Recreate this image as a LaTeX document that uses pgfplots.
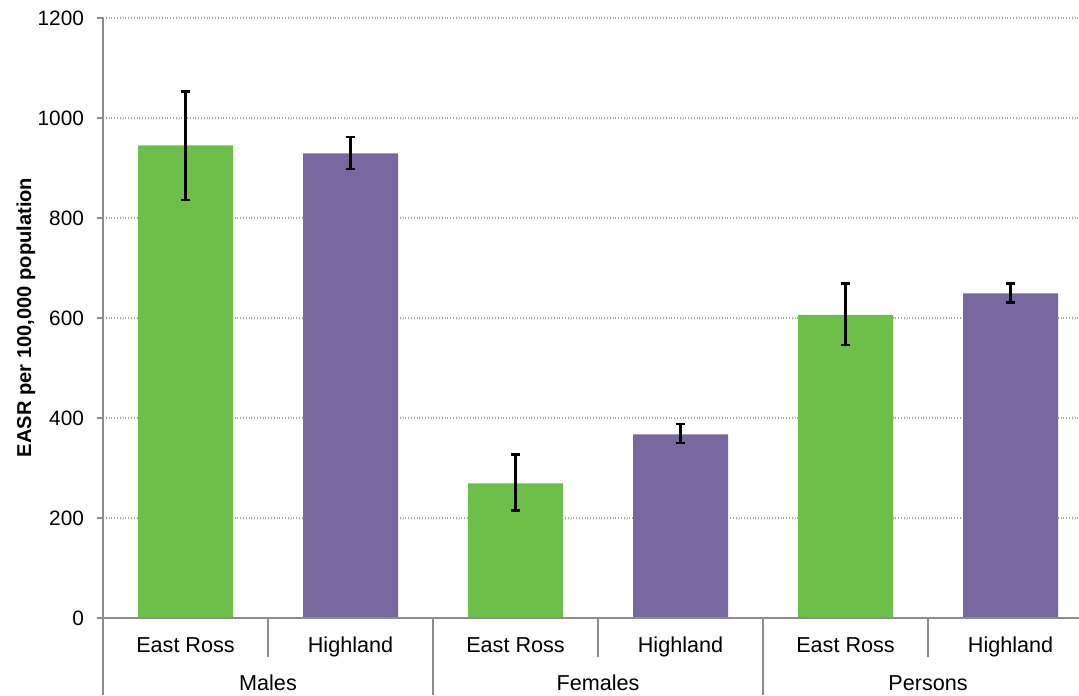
\documentclass[border=0pt]{standalone}
\usepackage{fontspec}
\setmainfont{Liberation Sans}
\usepackage{pgfplots}
\pgfplotsset{compat=1.18}
\definecolor{barGreen}{RGB}{108,192,74}
\definecolor{barPurple}{RGB}{118,103,158}
\definecolor{axisGray}{RGB}{140,140,140}
\newcommand{\tickfont}{\fontsize{10.4}{12}\selectfont}
\newcommand{\catfont}{\fontsize{10.8}{13}\selectfont}
\begin{document}
\begin{tikzpicture}
\useasboundingbox (-51.5pt,-38.5pt) rectangle (488pt,309pt);
\begin{axis}[
  scale only axis, width=488pt, height=300pt,
  at={(0pt,0pt)}, anchor=south west,
  xmin=-0.5, xmax=5.415, ymin=0, ymax=1200,
  clip=false,
  axis line style={draw=none},
  ytick={0,200,...,1200},
  ytick pos=left,
  tick align=outside,
  major tick length=3pt,
  ytick style={axisGray, line width=0.6pt},
  xtick=\empty,
  ymajorgrids,
  grid style={densely dotted, gray!70, line width=0.6pt},
  yticklabel style={font=\tickfont, xshift=-3pt},
  /pgf/number format/assume math mode=true,
  /pgf/number format/1000 sep={},
  ylabel={\bfseries EASR per 100,000 population},
  every axis y label/.style={at={(axis description cs:0,0.501)}, xshift=-38.5pt, rotate=90, anchor=center, font=\fontsize{10.05}{12}\selectfont},
]
\addplot[ybar, bar width=47.5pt, bar shift=0pt, fill=barGreen, draw=none,
  error bars/.cd, y dir=both, y explicit,
  error bar style={draw=black, line width=1.25pt},
  error mark options={draw=black, mark size=2.35pt, line width=1.25pt, rotate=90}]
  coordinates {(0,945) += (0,108) -= (0,109)
               (2,269) += (0,58) -= (0,54)
               (4,606) += (0,63) -= (0,60)};
\addplot[ybar, bar width=47.5pt, bar shift=0pt, fill=barPurple, draw=none,
  error bars/.cd, y dir=both, y explicit,
  error bar style={draw=black, line width=1.25pt},
  error mark options={draw=black, mark size=2.35pt, line width=1.25pt, rotate=90}]
  coordinates {(1,929) += (0,33) -= (0,31)
               (3,367) += (0,21) -= (0,17)
               (5,649) += (0,20) -= (0,18)};
% axis lines
\draw[axisGray, line width=0.6pt] (axis cs:-0.5,1200) -- (axis cs:-0.5,0) -- ++(0pt,-38.5pt);
\draw[axisGray, line width=0.6pt] (axis cs:-0.5,0) ++(-3pt,0pt) -- (axis cs:5.415,0);
\draw[axisGray, line width=0.6pt] (axis cs:0.5,0) -- ++(0pt,-19.5pt);
\draw[axisGray, line width=0.6pt] (axis cs:2.5,0) -- ++(0pt,-19.5pt);
\draw[axisGray, line width=0.6pt] (axis cs:4.5,0) -- ++(0pt,-19.5pt);
\draw[axisGray, line width=0.6pt] (axis cs:1.5,0) -- ++(0pt,-38.5pt);
\draw[axisGray, line width=0.6pt] (axis cs:3.5,0) -- ++(0pt,-38.5pt);
\draw[axisGray, line width=0.6pt] (axis cs:5.5,0) -- ++(0pt,-38.5pt);
% category labels
\node[anchor=base, font=\catfont, yshift=-17pt] at (axis cs:0,0) {East Ross};
\node[anchor=base, font=\catfont, yshift=-17pt] at (axis cs:1,0) {Highland};
\node[anchor=base, font=\catfont, yshift=-17pt] at (axis cs:2,0) {East Ross};
\node[anchor=base, font=\catfont, yshift=-17pt] at (axis cs:3,0) {Highland};
\node[anchor=base, font=\catfont, yshift=-17pt] at (axis cs:4,0) {East Ross};
\node[anchor=base, font=\catfont, yshift=-17pt] at (axis cs:5,0) {Highland};
\node[anchor=base, font=\catfont, yshift=-36.3pt] at (axis cs:0.5,0) {Males};
\node[anchor=base, font=\catfont, yshift=-36.3pt] at (axis cs:2.5,0) {Females};
\node[anchor=base, font=\catfont, yshift=-36.3pt] at (axis cs:4.5,0) {Persons};
\end{axis}
\end{tikzpicture}
\end{document}
